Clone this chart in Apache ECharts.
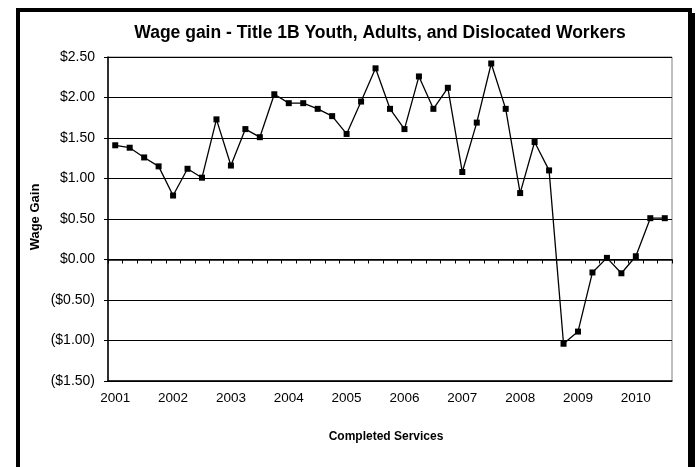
<!DOCTYPE html>
<html>
<head>
<meta charset="utf-8">
<script src="https://cdn.jsdelivr.net/npm/echarts@6/dist/echarts.min.js"></script>
<style>html,body{margin:0;padding:0;background:#fff;}#c{width:696px;height:467px;}</style>
</head>
<body>
<div id="c"></div>
<script>
var categories = [
  "2001 Q1","2001 Q2","2001 Q3","2001 Q4",
  "2002 Q1","2002 Q2","2002 Q3","2002 Q4",
  "2003 Q1","2003 Q2","2003 Q3","2003 Q4",
  "2004 Q1","2004 Q2","2004 Q3","2004 Q4",
  "2005 Q1","2005 Q2","2005 Q3","2005 Q4",
  "2006 Q1","2006 Q2","2006 Q3","2006 Q4",
  "2007 Q1","2007 Q2","2007 Q3","2007 Q4",
  "2008 Q1","2008 Q2","2008 Q3","2008 Q4",
  "2009 Q1","2009 Q2","2009 Q3","2009 Q4",
  "2010 Q1","2010 Q2","2010 Q3"
];
var wageGain = [
  1.41,1.38,1.26,1.15,
  0.79,1.12,1.01,1.73,
  1.16,1.61,1.51,2.04,
  1.93,1.93,1.86,1.77,
  1.55,1.95,2.36,1.86,
  1.61,2.26,1.86,2.12,
  1.08,1.69,2.42,1.86,
  0.82,1.45,1.10,-1.04,
  -0.89,-0.16,0.02,-0.17,
  0.04,0.51,0.51
];
var titleText = "Wage gain - Title 1B Youth, Adults, and Dislocated Workers";
var yName = "Wage Gain";
var xName = "Completed Services";

var chart = echarts.init(document.getElementById('c'), null, {renderer:'canvas'});
var font = 'Arial, "Liberation Sans", sans-serif';
function money(v){
  var s = '$' + Math.abs(v).toFixed(2);
  return v < 0 ? '(' + s + ')' : s;
}
chart.setOption({
  animation:false,
  backgroundColor:'#fff',
  grid:{left:108, top:57, width:564, height:324, show:true, borderColor:'#808080', borderWidth:1, backgroundColor:'transparent'},
  xAxis:[{
    type:'category', data:categories, boundaryGap:true, position:'bottom',
    axisLine:{onZero:false, lineStyle:{color:'#000', width:1.5}},
    axisTick:{show:false},
    axisLabel:{interval:3, margin:10, color:'#000', fontFamily:font, fontSize:13.5,
      formatter:function(v){return v.split(' ')[0];}},
    splitLine:{show:false}
  },{
    type:'category', data:categories, boundaryGap:true, position:'bottom',
    axisLine:{onZero:true, lineStyle:{color:'#000', width:1.5}},
    axisTick:{show:true, interval:0, length:4, lineStyle:{color:'#000', width:1}},
    axisLabel:{show:false},
    splitLine:{show:false}
  }],
  yAxis:{
    type:'value', min:-1.5, max:2.5, interval:0.5,
    axisLine:{show:true, lineStyle:{color:'#000', width:1.5}},
    axisTick:{show:true, length:4, lineStyle:{color:'#000'}},
    axisLabel:{margin:13, color:'#000', fontFamily:font, fontSize:14, formatter:money},
    splitLine:{show:true, lineStyle:{color:'#000', width:1.2}}
  },
  series:[{
    type:'line', data:wageGain, xAxisIndex:0,
    symbol:'rect', symbolSize:6, showSymbol:true,
    lineStyle:{color:'#000', width:1.3},
    itemStyle:{color:'#000'}
  }],
  graphic:[
    {type:'rect', shape:{x:18, y:10, width:672, height:470}, style:{fill:'none', stroke:'#000', lineWidth:4}, z:100},
    {type:'rect', shape:{x:689, y:13, width:6, height:460}, style:{fill:'#000'}, z:100},
    {type:'text', x:380, y:33, style:{text:titleText, font:'bold 17.5px ' + font, fill:'#000', textAlign:'center', textVerticalAlign:'middle'}},
    {type:'text', x:386, y:437, style:{text:xName, font:'bold 12px ' + font, fill:'#000', textAlign:'center', textVerticalAlign:'middle'}},
    {type:'text', x:35, y:217, rotation:Math.PI/2, style:{text:yName, font:'bold 13px ' + font, fill:'#000', textAlign:'center', textVerticalAlign:'middle'}}
  ]
});
</script>
</body>
</html>
